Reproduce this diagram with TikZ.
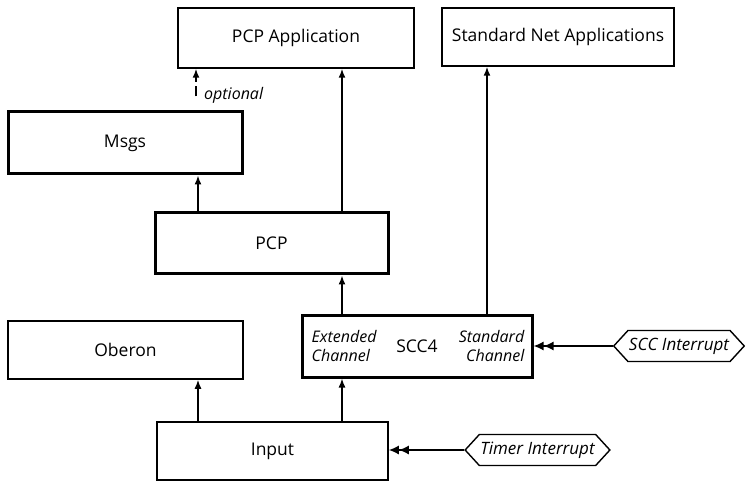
\documentclass[tikz,border=0pt]{standalone}
\usepackage{fontspec}
\setmainfont{Open Sans}
\usetikzlibrary{arrows.meta,shapes.symbols}
\begin{document}
\begin{tikzpicture}[x=1pt,y=-1pt,
  every node/.style={font=\fontsize{17.5}{20}\selectfont},
  thinbox/.style={draw,line width=1.5pt,rectangle,inner sep=0pt},
  thickbox/.style={draw,line width=3pt,rectangle,inner sep=0pt},
  arr/.style={line width=1.6pt,-{Latex[length=9pt,width=7pt]}},
  dbl/.style={line width=1.6pt,-{Latex[length=10pt,width=9pt]Latex[length=10pt,width=9pt]}},
  lab/.style={font=\fontsize{16}{19}\selectfont\itshape,inner sep=0pt},
  sig/.style={draw,line width=1.4pt,signal,signal to=west and east,signal pointer angle=95,
    font=\fontsize{17}{20}\selectfont\itshape,inner xsep=1pt,inner ysep=0pt,minimum height=31pt}
]
\useasboundingbox (0,0) rectangle (750,481);

\node[thinbox,minimum width=236pt,minimum height=60pt] (pcpapp) at (296,38) {PCP Application};
\node[thinbox,minimum width=232pt,minimum height=58pt] (stdnet) at (558,37) {Standard Net Applications};
\node[thickbox,minimum width=234pt,minimum height=62pt] (msgs) at (125,143) {Msgs};
\node[thickbox,minimum width=233pt,minimum height=61pt] (pcp) at (271.5,243.5) {PCP};
\node[thinbox,minimum width=235pt,minimum height=58pt] (oberon) at (125.5,350) {Oberon};
\node[thickbox,minimum width=230pt,minimum height=62pt] (scc) at (417,346) {SCC4};
\node[thinbox,minimum width=231pt,minimum height=58pt] (input) at (272.5,451) {Input};

\node[lab,anchor=west,align=left] (ext) at ([xshift=11pt]scc.west) {Extended\\Channel};
\node[lab,anchor=east,align=right] (std) at ([xshift=-9pt]scc.east) {Standard\\Channel};

\node[sig] (sccint) at (679,346) {SCC Interrupt};
\node[sig] (timint) at (537.5,450) {Timer Interrupt};

\coordinate (cl) at (198,0);
\coordinate (co) at (196,0);
\coordinate (cm) at (342,0);
\coordinate (cr) at (487,0);

\draw[arr] (pcp.north -| cl) -- (msgs.south -| cl);
\draw[arr] (pcp.north -| cm) -- (pcpapp.south -| cm);
\draw[arr] (scc.north -| cm) -- (pcp.south -| cm);
\draw[arr] (scc.north -| cr) -- (stdnet.south -| cr);
\draw[arr] (input.north -| cl) -- (oberon.south -| cl);
\draw[arr] (input.north -| cm) -- (scc.south -| cm);

\draw[line width=1.6pt] ([yshift=14pt]msgs.north -| co) -- ([yshift=24pt]msgs.north -| co);
\draw[arr] ([yshift=-13pt]pcpapp.south -| co) -- (pcpapp.south -| co);
\node[lab,anchor=west] (opt) at (204,95) {optional};

\draw[dbl] (sccint.west) -- (sccint.west -| scc.east);
\draw[dbl] (timint.west) -- (timint.west -| input.east);
\end{tikzpicture}
\end{document}
